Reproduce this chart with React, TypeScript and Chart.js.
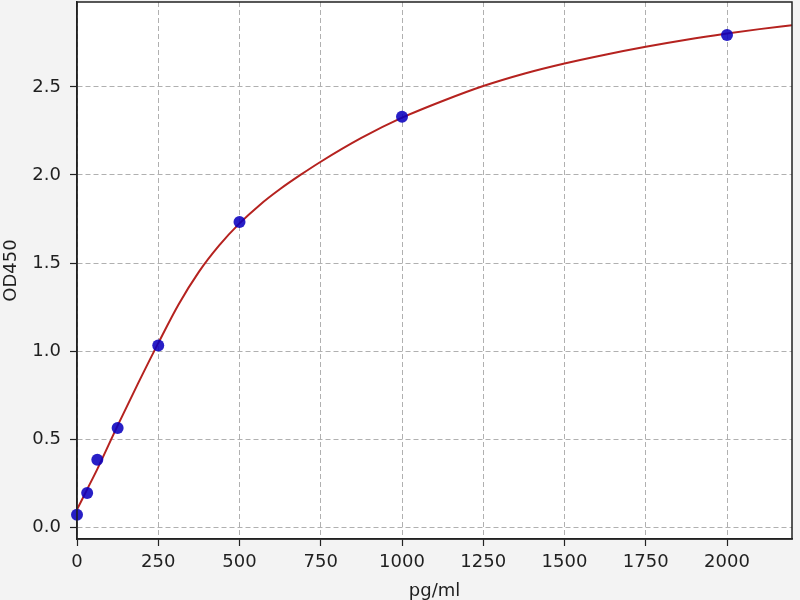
import { useEffect, useRef } from "react"
import Chart from "chart.js/auto"
import type { ChartConfiguration, Plugin } from "chart.js"

// standards
const concentrations = [0, 31.25, 62.5, 125, 250, 500, 1000, 2000]
const od450 = [0.071, 0.194, 0.383, 0.563, 1.031, 1.733, 2.33, 2.795]

// fitted curve at a few x values
const fitX = [
  0, 31.25, 62.5, 125, 187.5, 250, 312.5, 375, 437.5, 500, 562.5, 625, 687.5, 750, 875, 1000, 1125, 1250, 1375,
  1500, 1625, 1750, 1875, 2000, 2100, 2200,
]
const fitY = [
  0.1, 0.215, 0.33, 0.577, 0.815, 1.045, 1.265, 1.45, 1.6, 1.725, 1.83, 1.92, 2.0, 2.075, 2.21, 2.325, 2.42, 2.505,
  2.575, 2.633, 2.683, 2.728, 2.768, 2.803, 2.828, 2.85,
]

const xTicks = [0, 250, 500, 750, 1000, 1250, 1500, 1750, 2000]
const yTicks = [0, 0.5, 1, 1.5, 2, 2.5]

const FONT = "'DejaVu Sans', sans-serif"
const TEXT = "#1f1f1f"

// grey figure background, white plot area, black frame on all four sides
const framePlugin: Plugin = {
  id: "frame",
  beforeDraw(chart) {
    const { ctx, chartArea: a } = chart
    ctx.save()
    ctx.fillStyle = "#f3f3f3"
    ctx.fillRect(0, 0, chart.width, chart.height)
    ctx.fillStyle = "#ffffff"
    ctx.fillRect(a.left, a.top, a.right - a.left, a.bottom - a.top)
    ctx.restore()
  },
  afterDraw(chart) {
    const { ctx, chartArea: a } = chart
    ctx.save()
    ctx.strokeStyle = "#222"
    ctx.lineWidth = 1.5
    ctx.strokeRect(a.left, a.top, a.right - a.left, a.bottom - a.top)
    ctx.restore()
  },
}

function gridOpts() {
  return {
    color: "#b0b0b0",
    lineWidth: 1,
    tickColor: "#222",
    tickLength: 7,
    tickWidth: 1.2,
    tickBorderDash: [],
  }
}

export default function App() {
  const ref = useRef<HTMLCanvasElement>(null)

  useEffect(() => {
    if (!ref.current) return
    const config: ChartConfiguration = {
      type: "scatter",
      data: {
        datasets: [
          {
            type: "line",
            data: fitX.map((x, i) => ({ x, y: fitY[i] })),
            borderColor: "#b5221f",
            borderWidth: 2,
            pointRadius: 0,
            cubicInterpolationMode: "monotone",
            fill: false,
            order: 2,
          },
          {
            type: "scatter",
            data: concentrations.map((x, i) => ({ x, y: od450[i] })),
            backgroundColor: "rgba(10,0,190,0.88)",
            borderWidth: 0,
            pointRadius: 6,
            clip: false,
            order: 1,
          },
        ],
      },
      options: {
        responsive: false,
        animation: false,
        devicePixelRatio: 1,
        layout: { autoPadding: false, padding: { top: 2, right: 8, left: 0, bottom: 0 } },
        plugins: { legend: { display: false }, tooltip: { enabled: false } },
        scales: {
          x: {
            type: "linear",
            min: 0,
            max: 2200,
            afterBuildTicks: (s) => {
              s.ticks = xTicks.map((value) => ({ value }))
            },
            afterFit: (s) => {
              s.height = 61
              s.paddingLeft = 0
              s.paddingRight = 0
            },
            grid: gridOpts(),
            border: { display: true, color: "#222", width: 1.5, dash: [5, 3] },
            ticks: {
              color: TEXT,
              font: { family: FONT, size: 18 },
              padding: 6,
              maxRotation: 0,
              callback: (v) => String(v),
            },
            title: {
              display: true,
              text: "pg/ml",
              color: TEXT,
              font: { family: FONT, size: 18 },
              padding: { top: 2, bottom: -2 },
            },
          },
          y: {
            type: "linear",
            min: -0.067,
            max: 2.982,
            afterBuildTicks: (s) => {
              s.ticks = yTicks.map((value) => ({ value }))
            },
            afterFit: (s) => {
              s.width = 77
              s.paddingTop = 0
              s.paddingBottom = 0
            },
            grid: gridOpts(),
            border: { display: true, color: "#222", width: 1.5, dash: [5, 3] },
            ticks: {
              color: TEXT,
              font: { family: FONT, size: 18 },
              padding: 9,
              callback: (v) => Number(v).toFixed(1),
            },
            title: {
              display: true,
              text: "OD450",
              color: TEXT,
              font: { family: FONT, size: 18 },
              padding: { top: 1, bottom: 1 },
            },
          },
        },
      },
      plugins: [framePlugin],
    }
    const chart = new Chart(ref.current, config)
    return () => chart.destroy()
  }, [])

  return (
    <div style={{ position: "fixed", left: 0, top: 0, width: 800, height: 600 }}>
      <canvas ref={ref} width={800} height={600} />
    </div>
  )
}
